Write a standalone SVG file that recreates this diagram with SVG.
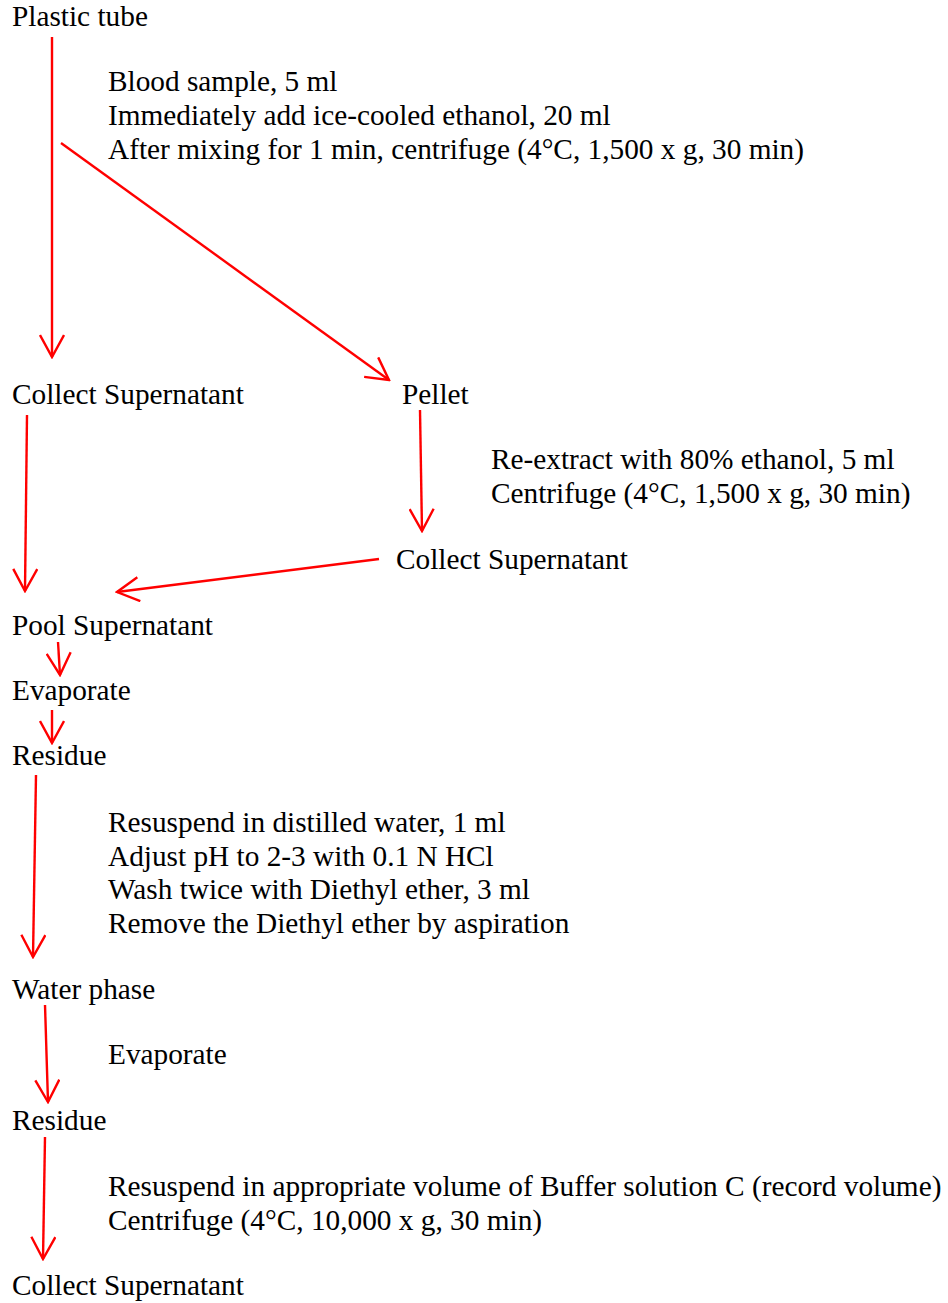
<svg xmlns="http://www.w3.org/2000/svg" width="948" height="1303" viewBox="0 0 948 1303">
<style>
text{font-family:"Liberation Serif","Times New Roman",serif;font-size:29.3px;fill:#000}
.c{stroke:#ff0000;stroke-width:2.4;fill:none}
</style>
<defs>
<marker id="ah" markerUnits="userSpaceOnUse" viewBox="-24 -13 26 26" refX="0" refY="0" markerWidth="26" markerHeight="26" orient="auto">
<path d="M-22,-12 L0,0 L-22,12" fill="none" stroke="#ff0000" stroke-width="2.4"/>
</marker>
</defs>
<rect width="948" height="1303" fill="#fff"/>
<g id="n-plastic"><text x="12" y="26">Plastic tube</text></g>
<g id="s1"><text x="108" y="91">Blood sample, 5 ml</text><text x="108" y="125">Immediately add ice-cooled ethanol, 20 ml</text><text x="108" y="159">After mixing for 1 min, centrifuge (4°C, 1,500 x g, 30 min)</text></g>
<g id="n-collect1"><text x="12" y="404">Collect Supernatant</text></g>
<g id="n-pellet"><text x="402" y="404">Pellet</text></g>
<g id="s2"><text x="491" y="469">Re-extract with 80% ethanol, 5 ml</text><text x="491" y="503">Centrifuge (4°C, 1,500 x g, 30 min)</text></g>
<g id="n-collect2"><text x="396" y="569">Collect Supernatant</text></g>
<g id="n-pool"><text x="12" y="635">Pool Supernatant</text></g>
<g id="n-evap1"><text x="12" y="700">Evaporate</text></g>
<g id="n-res1"><text x="12" y="765">Residue</text></g>
<g id="s3"><text x="108" y="832">Resuspend in distilled water, 1 ml</text><text x="108" y="866">Adjust pH to 2-3 with 0.1 N HCl</text><text x="108" y="899">Wash twice with Diethyl ether, 3 ml</text><text x="108" y="933">Remove the Diethyl ether by aspiration</text></g>
<g id="n-water"><text x="12" y="999">Water phase</text></g>
<g id="s4"><text x="108" y="1064">Evaporate</text></g>
<g id="n-res2"><text x="12" y="1130">Residue</text></g>
<g id="s5"><text x="108" y="1196">Resuspend in appropriate volume of Buffer solution C (record volume)</text><text x="108" y="1230">Centrifuge (4°C, 10,000 x g, 30 min)</text></g>
<g id="n-collect3"><text x="12" y="1295">Collect Supernatant</text></g>
<g id="connectors">
<line class="c" x1="52" y1="37" x2="52" y2="357" marker-end="url(#ah)"/>
<line class="c" x1="61" y1="143" x2="389" y2="380" marker-end="url(#ah)"/>
<line class="c" x1="27" y1="415" x2="25" y2="591" marker-end="url(#ah)"/>
<line class="c" x1="420" y1="410" x2="422" y2="531" marker-end="url(#ah)"/>
<line class="c" x1="379" y1="559" x2="117" y2="592" marker-end="url(#ah)"/>
<line class="c" x1="58" y1="642" x2="60" y2="675" marker-end="url(#ah)"/>
<line class="c" x1="52" y1="710" x2="52" y2="743" marker-end="url(#ah)"/>
<line class="c" x1="36" y1="775" x2="33" y2="957" marker-end="url(#ah)"/>
<line class="c" x1="45" y1="1005" x2="48" y2="1102" marker-end="url(#ah)"/>
<line class="c" x1="45" y1="1137" x2="43" y2="1259" marker-end="url(#ah)"/>
</g>
</svg>
